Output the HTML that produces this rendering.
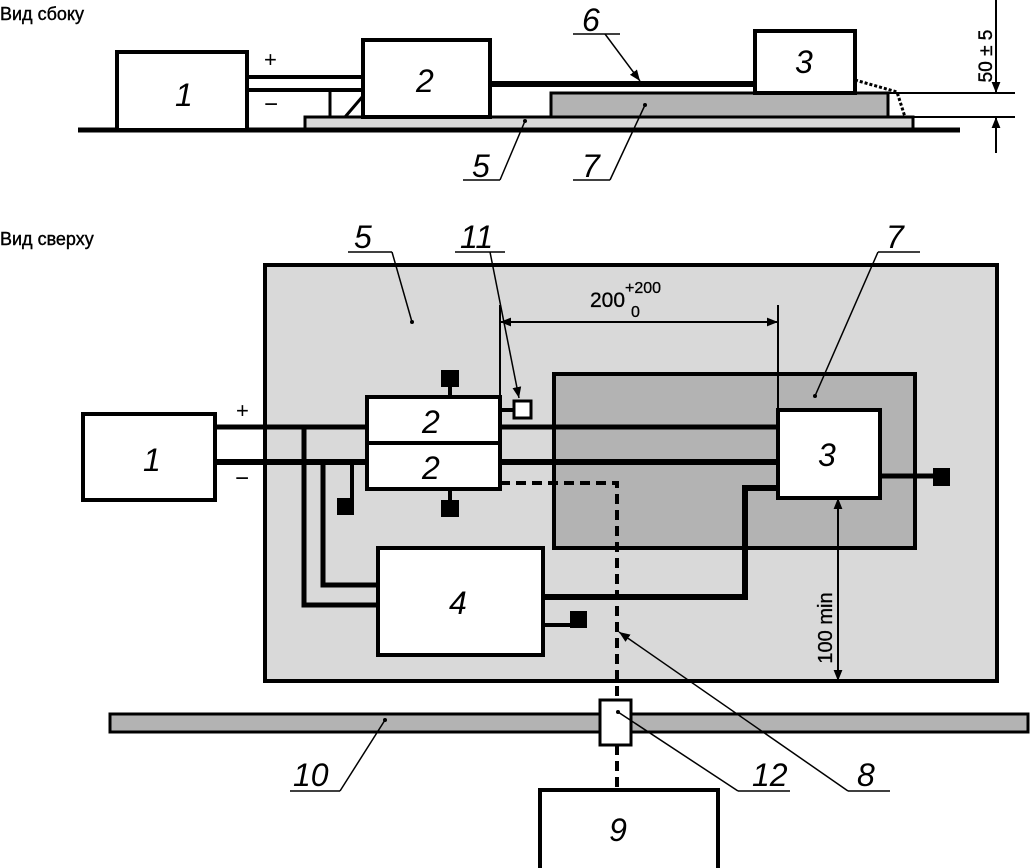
<!DOCTYPE html>
<html><head><meta charset="utf-8"><style>
html,body{margin:0;padding:0;background:#fff}
svg{display:block}
text{font-family:"Liberation Sans",sans-serif;fill:#000}
.n{font-size:32px;font-style:italic}
.h{font-size:18px;stroke:#000;stroke-width:0.4}
</style></head><body>
<svg width="1032" height="868" viewBox="0 0 1032 868" xmlns="http://www.w3.org/2000/svg">
<defs>
<marker id="a" viewBox="0 0 10 10" refX="10" refY="5" markerWidth="11" markerHeight="11" orient="auto-start-reverse" markerUnits="userSpaceOnUse"><path d="M0,1 L10,5 L0,9 Z" fill="#000"/></marker>
</defs>
<!-- SIDE VIEW -->
<text x="0" y="20" class="h">Вид сбоку</text>
<rect x="305" y="117" width="608" height="13" fill="#d9d9d9" stroke="#000" stroke-width="3"/>
<rect x="551" y="93" width="337" height="24" fill="#b3b3b3" stroke="#000" stroke-width="3"/>
<line x1="78" y1="130" x2="960" y2="130" stroke="#000" stroke-width="5"/>
<rect x="117" y="52" width="130" height="78" fill="#fff" stroke="#000" stroke-width="4"/>
<rect x="363" y="40" width="127" height="77" fill="#fff" stroke="#000" stroke-width="4"/>
<rect x="755" y="31" width="100" height="62" fill="#fff" stroke="#000" stroke-width="4"/>
<line x1="247" y1="77" x2="363" y2="77" stroke="#000" stroke-width="4"/>
<line x1="247" y1="90" x2="363" y2="90" stroke="#000" stroke-width="4"/>
<line x1="330" y1="90" x2="330" y2="117" stroke="#000" stroke-width="3"/>
<line x1="345" y1="117" x2="363" y2="96" stroke="#000" stroke-width="3"/>
<line x1="490" y1="84" x2="755" y2="84" stroke="#000" stroke-width="6"/>
<polyline points="855,80 897,92 905,117" fill="none" stroke="#000" stroke-width="3" stroke-dasharray="3,2"/>
<text x="264" y="67" font-size="22">+</text>
<text x="264" y="112" font-size="24">−</text>
<text x="175" y="106" class="n">1</text>
<text x="416" y="92" class="n">2</text>
<text x="795" y="73" class="n">3</text>
<line x1="888" y1="93" x2="1015" y2="93" stroke="#000" stroke-width="2"/>
<line x1="913" y1="117" x2="1015" y2="117" stroke="#000" stroke-width="2"/>
<line x1="996" y1="0" x2="996" y2="93" stroke="#000" stroke-width="2" marker-end="url(#a)"/>
<line x1="996" y1="153" x2="996" y2="117" stroke="#000" stroke-width="2" marker-end="url(#a)"/>
<text transform="translate(992,56) rotate(-90)" font-size="19" text-anchor="middle" stroke="#000" stroke-width="0.4">50 ± 5</text>
<!-- side labels -->
<text x="582" y="31" class="n">6</text>
<line x1="573" y1="34" x2="620" y2="34" stroke="#000" stroke-width="1.5"/>
<line x1="605" y1="34" x2="640" y2="81" stroke="#000" stroke-width="1.5" marker-end="url(#a)"/>
<text x="472" y="177" class="n">5</text>
<line x1="463" y1="180" x2="500" y2="180" stroke="#000" stroke-width="1.5"/>
<line x1="500" y1="180" x2="525" y2="121" stroke="#000" stroke-width="1.5"/>
<circle cx="525" cy="121" r="2" fill="#000"/>
<text x="582" y="177" class="n">7</text>
<line x1="573" y1="180" x2="610" y2="180" stroke="#000" stroke-width="1.5"/>
<line x1="610" y1="180" x2="645" y2="105" stroke="#000" stroke-width="1.5"/>
<circle cx="645" cy="105" r="2" fill="#000"/>
<!-- TOP VIEW -->
<text x="0" y="245" class="h">Вид сверху</text>
<rect x="265" y="265" width="732" height="416" fill="#d9d9d9" stroke="#000" stroke-width="4"/>
<rect x="554" y="374" width="361" height="174" fill="#b3b3b3" stroke="#000" stroke-width="4"/>
<line x1="215" y1="427" x2="780" y2="427" stroke="#000" stroke-width="5"/>
<line x1="215" y1="462" x2="780" y2="462" stroke="#000" stroke-width="6"/>
<polyline points="304,427 304,605 378,605" fill="none" stroke="#000" stroke-width="5"/>
<polyline points="323,462 323,585 378,585" fill="none" stroke="#000" stroke-width="5"/>
<polyline points="352,462 352,505" fill="none" stroke="#000" stroke-width="4"/>
<rect x="337" y="498" width="17" height="17" fill="#000"/>
<polyline points="543,597 745,597 745,488 780,488" fill="none" stroke="#000" stroke-width="6"/>
<polyline points="543,625 572,625" fill="none" stroke="#000" stroke-width="4"/>
<rect x="570" y="611" width="17" height="17" fill="#000"/>
<line x1="880" y1="476" x2="936" y2="476" stroke="#000" stroke-width="5"/>
<rect x="933" y="468" width="17" height="18" fill="#000"/>
<polyline points="500,483 617,483 617,700" fill="none" stroke="#000" stroke-width="4" stroke-dasharray="10,6"/>
<line x1="617" y1="745" x2="617" y2="790" stroke="#000" stroke-width="4" stroke-dasharray="10,6"/>
<line x1="450" y1="380" x2="450" y2="397" stroke="#000" stroke-width="4"/>
<rect x="441" y="370" width="18" height="17" fill="#000"/>
<line x1="450" y1="488" x2="450" y2="505" stroke="#000" stroke-width="4"/>
<rect x="441" y="500" width="18" height="17" fill="#000"/>
<line x1="500" y1="410" x2="514" y2="410" stroke="#000" stroke-width="4"/>
<rect x="514" y="401" width="17" height="17" fill="#fff" stroke="#000" stroke-width="3"/>
<rect x="83" y="414" width="132" height="86" fill="#fff" stroke="#000" stroke-width="4"/>
<rect x="367" y="397" width="133" height="46" fill="#fff" stroke="#000" stroke-width="4"/>
<rect x="367" y="443" width="133" height="46" fill="#fff" stroke="#000" stroke-width="4"/>
<rect x="378" y="548" width="165" height="107" fill="#fff" stroke="#000" stroke-width="4"/>
<rect x="778" y="410" width="102" height="88" fill="#fff" stroke="#000" stroke-width="4"/>
<text x="236" y="418" font-size="22">+</text>
<text x="235" y="486" font-size="24">−</text>
<text x="143" y="471" class="n">1</text>
<text x="422" y="433" class="n">2</text>
<text x="422" y="479" class="n">2</text>
<text x="449" y="614" class="n">4</text>
<text x="818" y="466" class="n">3</text>
<line x1="500" y1="305" x2="500" y2="397" stroke="#000" stroke-width="2"/>
<line x1="778" y1="305" x2="778" y2="410" stroke="#000" stroke-width="2"/>
<line x1="500" y1="322" x2="778" y2="322" stroke="#000" stroke-width="2" marker-start="url(#a)" marker-end="url(#a)"/>
<text x="590" y="307" font-size="21" stroke="#000" stroke-width="0.3">200</text>
<text x="625" y="293" font-size="16" stroke="#000" stroke-width="0.3">+200</text>
<text x="631" y="317" font-size="16" stroke="#000" stroke-width="0.3">0</text>
<line x1="838" y1="498" x2="838" y2="681" stroke="#000" stroke-width="2" marker-start="url(#a)" marker-end="url(#a)"/>
<text transform="translate(832,628) rotate(-90)" font-size="20" text-anchor="middle" stroke="#000" stroke-width="0.3">100 min</text>
<text x="354" y="248" class="n">5</text>
<line x1="348" y1="252" x2="392" y2="252" stroke="#000" stroke-width="1.5"/>
<line x1="392" y1="252" x2="412" y2="322" stroke="#000" stroke-width="1.5"/>
<circle cx="412" cy="322" r="2" fill="#000"/>
<text x="460" y="248" class="n">11</text>
<line x1="455" y1="252" x2="505" y2="252" stroke="#000" stroke-width="1.5"/>
<line x1="490" y1="252" x2="519" y2="398" stroke="#000" stroke-width="1.5" marker-end="url(#a)"/>
<text x="886" y="248" class="n">7</text>
<line x1="878" y1="252" x2="920" y2="252" stroke="#000" stroke-width="1.5"/>
<line x1="878" y1="252" x2="815" y2="396" stroke="#000" stroke-width="1.5"/>
<circle cx="815" cy="396" r="2" fill="#000"/>
<rect x="110" y="714" width="918" height="18" fill="#b3b3b3" stroke="#000" stroke-width="3"/>
<rect x="600" y="700" width="31" height="45" fill="#fff" stroke="#000" stroke-width="3"/>
<rect x="540" y="790" width="178" height="80" fill="#fff" stroke="#000" stroke-width="4"/>
<text x="618" y="841" class="n" text-anchor="middle">9</text>
<text x="293" y="786" class="n">10</text>
<line x1="290" y1="791" x2="340" y2="791" stroke="#000" stroke-width="1.5"/>
<line x1="340" y1="791" x2="385" y2="720" stroke="#000" stroke-width="1.5"/>
<circle cx="385" cy="720" r="2" fill="#000"/>
<text x="752" y="786" class="n">12</text>
<line x1="738" y1="791" x2="790" y2="791" stroke="#000" stroke-width="1.5"/>
<line x1="738" y1="791" x2="618" y2="712" stroke="#000" stroke-width="1.5"/>
<circle cx="618" cy="712" r="2" fill="#000"/>
<text x="857" y="786" class="n">8</text>
<line x1="848" y1="791" x2="890" y2="791" stroke="#000" stroke-width="1.5"/>
<line x1="848" y1="791" x2="619" y2="632" stroke="#000" stroke-width="1.5" marker-end="url(#a)"/>
</svg>
</body></html>
